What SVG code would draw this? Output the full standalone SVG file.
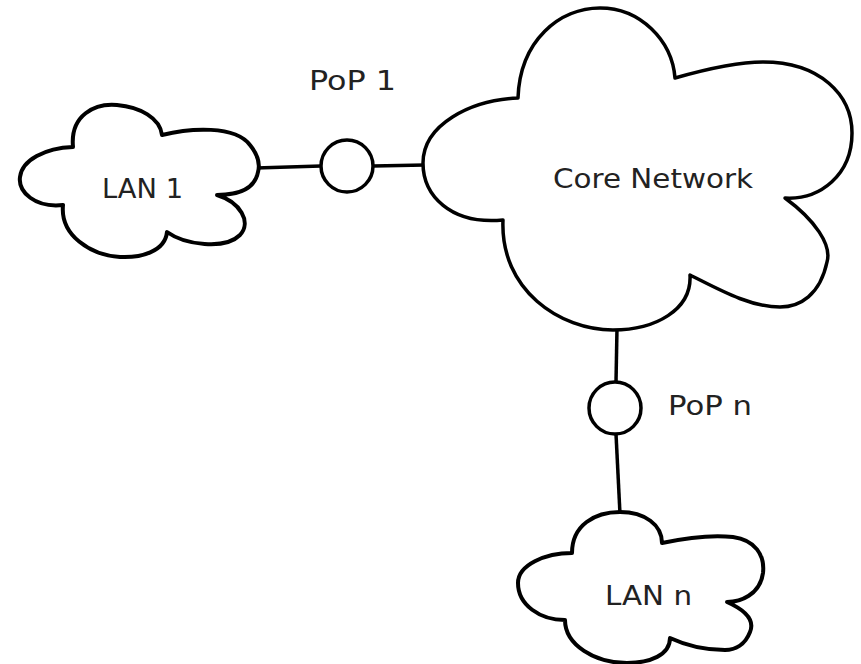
<svg xmlns="http://www.w3.org/2000/svg" width="861" height="664" viewBox="0 0 861 664">
<style>
.cloud{fill:#fff;stroke:#000;stroke-width:4;stroke-linejoin:round}
.pop{fill:#fff;stroke:#000;stroke-width:3.5}
.conn{stroke:#000;stroke-width:3.5;fill:none}
.lbl{font-family:"DejaVu Sans","Liberation Sans",sans-serif;fill:#222;font-size:26px}
</style>
<rect width="861" height="664" fill="#fff"/>
<g id="connectors">
<line class="conn" x1="256" y1="168" x2="321" y2="166"/>
<line class="conn" x1="373" y1="166" x2="425" y2="165"/>
<line class="conn" x1="617" y1="328" x2="616" y2="382"/>
<line class="conn" x1="616" y1="434" x2="620" y2="514"/>
</g>
<g id="lan1">
<path class="cloud" d="M73,147 C70,115 95,103 117,105 C140,107 160,118 162,135 C190,128 235,125 250,145 C258,155 260,165 258,172 C255,188 240,195 217,195 C240,202 252,222 240,235 C225,250 185,245 167,232 C165,252 140,258 120,257 C90,255 60,235 63,205 C35,208 18,192 20,177 C22,160 45,148 73,147 Z"/>
<text class="lbl" x="102" y="198" textLength="81" lengthAdjust="spacingAndGlyphs">LAN 1</text>
</g>
<g id="pop1">
<circle class="pop" cx="347" cy="166" r="26"/>
<text class="lbl" x="309" y="90" textLength="87" lengthAdjust="spacingAndGlyphs">PoP 1</text>
</g>
<g id="core">
<path class="cloud" style="stroke-width:3.5" d="M518,98 C520,40 560,8 600,8 C640,8 672,40 675,78 C710,68 740,62 763,62 C820,62 852,95 852,133 C852,175 820,200 785,198 C815,220 832,245 827,262 C820,295 800,307 780,307 C750,307 720,290 690,275 C692,310 655,330 613,330 C560,330 500,290 503,220 C450,225 423,195 423,163 C423,125 470,100 518,98 Z"/>
<text class="lbl" x="553" y="188" font-size="28" textLength="200" lengthAdjust="spacingAndGlyphs">Core Network</text>
</g>
<g id="popn">
<circle class="pop" cx="615" cy="408" r="26"/>
<text class="lbl" x="668" y="415" textLength="84" lengthAdjust="spacingAndGlyphs">PoP n</text>
</g>
<g id="lann">
<path class="cloud" d="M572,553 C572,525 595,512 620,512 C645,512 662,525 662,543 C690,537 715,535 733,537 C755,540 765,555 763,573 C760,595 740,602 727,602 C745,610 755,620 750,632 C745,645 735,650 725,650 C705,650 685,645 670,638 C670,655 650,663 627,663 C595,663 565,645 565,620 C540,620 518,605 518,583 C518,565 545,553 572,553 Z"/>
<text class="lbl" x="605" y="605" textLength="87" lengthAdjust="spacingAndGlyphs">LAN n</text>
</g>
</svg>
